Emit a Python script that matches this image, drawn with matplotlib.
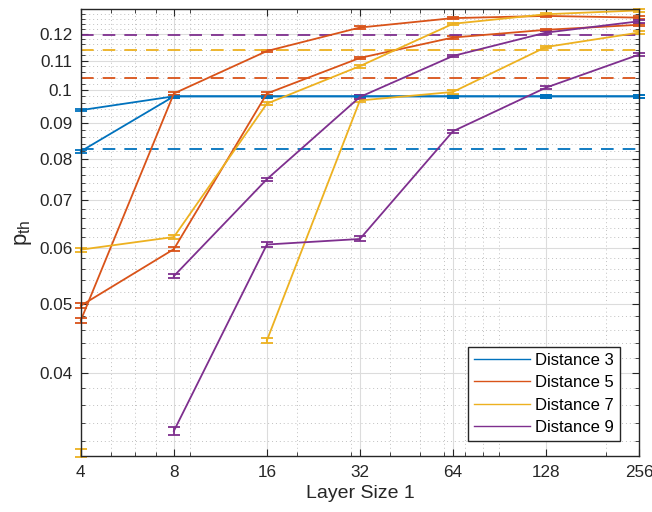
import numpy as np
import matplotlib
matplotlib.use('Agg')
import matplotlib.pyplot as plt
from matplotlib.lines import Line2D
from matplotlib.ticker import FixedLocator, FuncFormatter, NullFormatter

plt.rcParams['font.family'] = ['Liberation Sans', 'DejaVu Sans']

blue = '#0072BD'
orange = '#D95319'
yellow = '#EDB120'
purple = '#7E2F8E'

layer_size = [4, 8, 16, 32, 64, 128, 256]
nan = np.nan

# two runs per distance
d3_a = [0.0937, 0.0980, 0.0980, 0.0980, 0.0980, 0.0980, 0.0980]
d3_b = [0.0820, 0.0980, 0.0980, 0.0980, 0.0980, 0.0980, 0.0980]
d5_a = [0.0474, 0.0989, 0.1135, 0.1225, 0.1263, 0.1272, 0.1265]
d5_b = [0.0497, 0.0597, 0.0989, 0.1110, 0.1186, 0.1216, 0.1236]
d7_a = [0.0596, 0.0621, 0.0957, 0.1081, 0.1240, 0.1279, 0.1295]
d7_b = [0.0308, nan, 0.0444, 0.0967, 0.0994, 0.1150, 0.1205]
d9_a = [nan, 0.0547, 0.0749, 0.0978, 0.1117, 0.1205, 0.1250]
d9_b = [nan, 0.0331, 0.0606, 0.0617, 0.0875, 0.1008, 0.1122]

err_a = [0.0004, 0.0004, 0.0004, 0.0005, 0.0005, 0.0005, 0.0005]
err_b = [0.0004, 0.0004, 0.0004, 0.0005, 0.0005, 0.0005, 0.0005]

# thresholds (dashed)
th_d3 = 0.0826
th_d5 = 0.1040
th_d7 = 0.1140
th_d9 = 0.1197

series = [
    ('Distance 3', blue, d3_a, d3_b, th_d3),
    ('Distance 5', orange, d5_a, d5_b, th_d5),
    ('Distance 7', yellow, d7_a, d7_b, th_d7),
    ('Distance 9', purple, d9_a, d9_b, th_d9),
]

fig = plt.figure(figsize=(6.52, 5.12), dpi=100)
ax = fig.add_axes([0.124, 0.109, 0.856, 0.873])

handles = []
for name, c, ya, yb, th in series:
    for y, e in ((ya, err_a), (yb, err_b)):
        ax.errorbar(layer_size, y, yerr=e, color=c, lw=1.3, capsize=4.5,
                    elinewidth=1.3, capthick=1.3, clip_on=False)
    ax.plot([layer_size[0], layer_size[-1]], [th, th], '--', color=c,
            lw=1.3, dashes=(7, 5))
    handles.append(Line2D([], [], color=c, lw=1.0))

ax.set_xscale('log')
ax.set_yscale('log')
ax.set_xlim(4, 256)
ax.set_ylim(0.0305, 0.130)

ax.xaxis.set_major_locator(FixedLocator(layer_size))
ax.xaxis.set_major_formatter(FuncFormatter(lambda v, p: '%d' % v))
ax.xaxis.set_minor_formatter(NullFormatter())

yt = [0.04, 0.05, 0.06, 0.07, 0.08, 0.09, 0.1, 0.11, 0.12]
ax.yaxis.set_major_locator(FixedLocator(yt))
ax.yaxis.set_major_formatter(FuncFormatter(lambda v, p: '%g' % v))
ax.yaxis.set_minor_locator(FixedLocator(np.arange(0.030, 0.1301, 0.002)))
ax.yaxis.set_minor_formatter(NullFormatter())

ax.tick_params(which='both', direction='in', top=True, right=True,
               labelsize=12.3, colors='#262626')
ax.tick_params(which='major', length=5, pad=6)
ax.tick_params(which='minor', length=3)
for s in ax.spines.values():
    s.set_color('#262626')
    s.set_linewidth(1.0)

ax.grid(True, which='major', color='#dcdcdc', lw=0.8)
ax.grid(True, which='minor', color='#c0c0c0', lw=0.7, ls=(0, (1, 3)))
ax.set_axisbelow(True)

ax.set_xlabel('Layer Size 1', fontsize=14, color='#262626')
ax.set_ylabel(r'$\mathregular{p_{th}}$', fontsize=16, color='#262626')

ax.legend(handles, [s[0] for s in series], loc='lower right',
          bbox_to_anchor=(0.966, 0.034), fontsize=12, fancybox=False,
          framealpha=1, edgecolor='#262626', handlelength=3.4,
          handletextpad=0.3, borderpad=0.35, labelspacing=0.45,
          borderaxespad=0)

fig.savefig('out.png', dpi=100)
